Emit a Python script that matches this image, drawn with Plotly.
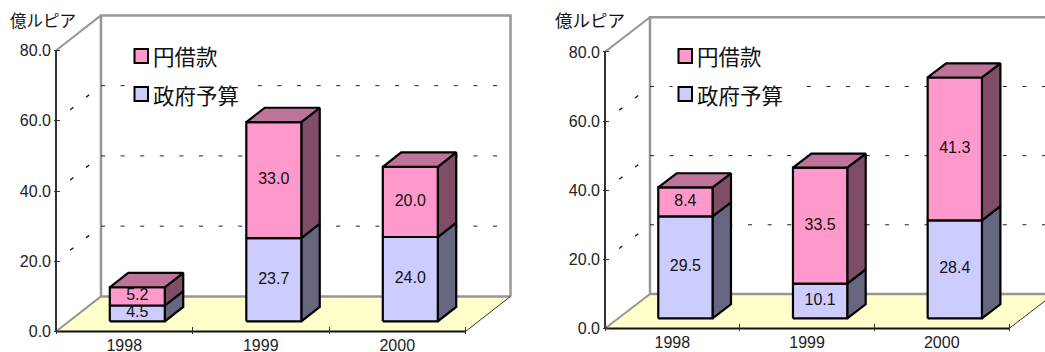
import plotly.graph_objects as go

# Stacked spending per year, in 100 million rupiah
years = ["1998", "1999", "2000"]
budget_a = [4.5, 23.7, 24.0]
loan_a = [5.2, 33.0, 20.0]
budget_b = [29.5, 10.1, 28.4]
loan_b = [8.4, 33.5, 41.3]
y_ticks = [0, 20, 40, 60, 80]
y_tick_text = ["0.0", "20.0", "40.0", "60.0", "80.0"]
loan_name = "円借款"
budget_name = "政府予算"
unit_name = "億ルピア"

W, H = 1045, 352
PINK = ("#FF99CC", "#BF7399", "#804D66")     # front, top, side
BLUE = ("#CCCCFF", "#9999BF", "#666680")
FLOOR = "#FFFFCC"
WALL = "#969696"
DARK = "#333333"

# Oblique projection: how far the back of the box shifts, in axis units
DEPTH_Y = 10.0
BAR_WIDTH = 0.403
BAR_D0, BAR_D1 = 0.29, 0.70
SIDE_GRID_START = 0.316  # the side-wall dashes begin a third of the way back
PAD = 2  # pixels kept around the axis so edge strokes are not cut


def px_x(p):
    return p / W


def px_y(p):
    return (H - p) / H


def add_poly(fig, xs, ys, fill, line, width, ax, dash=None):
    fig.add_trace(go.Scatter(
        x=xs, y=ys, mode="lines", fill="toself" if fill else "none",
        fillcolor=fill, line=dict(color=line, width=width, dash=dash),
        hoverinfo="skip", showlegend=False, xaxis=ax[0], yaxis=ax[1]))


def add_panel(fig, n, budget, loan, x0, cat_w, y0, unit, right_px, unit_x, unit_size, legend_x):
    xname, yname = ("x", "y") if n == 1 else (f"x{n}", f"y{n}")
    ax = (xname, yname)
    depth_x = 45.0 / cat_w
    x_max = (right_px - x0) / cat_w
    xr = [-PAD / cat_w, x_max]
    top_v = DEPTH_Y + 80 + PAD / unit
    yr = [-PAD / unit, top_v]
    n_cat = len(years)
    dom_x = [px_x(x0 - PAD), px_x(right_px)]
    dom_y = [px_y(y0 + PAD), px_y(y0 - top_v * unit)]

    # Floor, then the side and back walls
    add_poly(fig, [0, n_cat, n_cat + depth_x, depth_x, 0], [0, 0, DEPTH_Y, DEPTH_Y, 0], FLOOR, FLOOR, 0.5, ax)
    add_poly(fig, [depth_x, depth_x, n_cat + depth_x, n_cat + depth_x],
             [DEPTH_Y, DEPTH_Y + 80, DEPTH_Y + 80, DEPTH_Y], None, WALL, 2.5, ax)
    add_poly(fig, [depth_x, n_cat + depth_x], [DEPTH_Y, DEPTH_Y], None, WALL, 2.5, ax)
    add_poly(fig, [0, depth_x], [0, DEPTH_Y], None, WALL, 2, ax)
    add_poly(fig, [0, depth_x], [80, DEPTH_Y + 80], None, WALL, 2, ax)

    # Dashed grid on both walls
    for v in y_ticks[1:-1]:
        add_poly(fig, [depth_x, n_cat + depth_x], [v + DEPTH_Y, v + DEPTH_Y], None, "#222222", 1, ax,
                 dash="4px,15.6px")
        add_poly(fig, [SIDE_GRID_START * depth_x, depth_x], [v + SIDE_GRID_START * DEPTH_Y, v + DEPTH_Y],
                 None, "#111111", 1.3, ax, dash="4px,16px")

    # Front edges of the box
    add_poly(fig, [n_cat, n_cat + depth_x], [0, DEPTH_Y], None, DARK, 1, ax)
    add_poly(fig, [0, 0], [0, 80], None, DARK, 2, ax)
    add_poly(fig, [0, n_cat], [0, 0], None, "#111111", 2, ax)

    # Stacked boxes
    label_x, label_y, label_t = [], [], []
    for i in range(n_cat):
        xl = i + 0.5 - BAR_WIDTH / 2 + BAR_D0 * depth_x
        xr_ = xl + BAR_WIDTH
        dx = (BAR_D1 - BAR_D0) * depth_x
        dy = (BAR_D1 - BAR_D0) * DEPTH_Y
        base = BAR_D0 * DEPTH_Y
        for val, pal in ((budget[i], BLUE), (loan[i], PINK)):
            top = base + val
            add_poly(fig, [xr_, xr_ + dx, xr_ + dx, xr_, xr_], [base, base + dy, top + dy, top, base],
                     pal[2], "#000000", 2.2, ax)
            add_poly(fig, [xl, xr_, xr_, xl, xl], [base, base, top, top, base], pal[0], "#000000", 2.2, ax)
            label_x.append((xl + xr_) / 2)
            label_y.append((base + top) / 2)
            label_t.append(f"{val:.1f}")
            base = top
        add_poly(fig, [xl, xr_, xr_ + dx, xl + dx, xl], [base, base, base + dy, base + dy, base],
                 PINK[1], "#000000", 2.2, ax)

    fig.add_trace(go.Scatter(
        x=label_x, y=label_y, text=label_t, mode="text", textposition="middle center",
        textfont=dict(family="Liberation Sans", size=16, color="#111111"),
        hoverinfo="skip", showlegend=False, xaxis=xname, yaxis=yname))

    fig.update_layout({
        ("xaxis" if n == 1 else f"xaxis{n}"): dict(
            domain=dom_x, range=xr, anchor=yname, showgrid=False, zeroline=False, showline=False,
            automargin=False,
            tickmode="array", tickvals=[i + 0.5 for i in range(n_cat)], ticktext=years, ticks="",
            ticklabelstandoff=0,
            tickfont=dict(family="Liberation Sans", size=16, color="#222222"),
            minor=dict(tickmode="array", tickvals=list(range(n_cat + 1)), ticks="inside",
                       ticklen=7, tickwidth=1, tickcolor=DARK, showgrid=False)),
        ("yaxis" if n == 1 else f"yaxis{n}"): dict(
            domain=dom_y, range=yr, anchor=xname, showgrid=False, zeroline=False, showline=False,
            automargin=False,
            tickmode="array", tickvals=y_ticks, ticktext=y_tick_text, ticks="inside",
            ticklen=6, tickwidth=1, tickcolor=DARK, ticklabelstandoff=2,
            tickfont=dict(family="Liberation Sans", size=16, color="#222222")),
    })

    # Legend block with a white plate that interrupts the top grid line
    shapes = [dict(type="rect", xref="paper", yref="paper", x0=px_x(legend_x - 6), x1=px_x(legend_x + 118),
                   y0=px_y(106), y1=px_y(42), fillcolor="white", line=dict(width=0), layer="above")]
    for row_y, colour in ((56, PINK[0]), (94, BLUE[0])):
        shapes.append(dict(type="rect", xref="paper", yref="paper", x0=px_x(legend_x), x1=px_x(legend_x + 13.5),
                           y0=px_y(row_y + 7), y1=px_y(row_y - 7), fillcolor=colour,
                           line=dict(color="#000000", width=2), layer="above"))
    notes = []
    for row_y, name in ((56, loan_name), (94, budget_name)):
        notes.append(dict(x=px_x(legend_x + 16), y=px_y(row_y), xref="paper", yref="paper", text=name,
                          xanchor="left", yanchor="middle", showarrow=False,
                          font=dict(family="Noto Sans CJK JP", size=21.5, color="#111111")))
    notes.append(dict(x=px_x(unit_x), y=px_y(20), xref="paper", yref="paper", text=unit_name,
                      xanchor="left", yanchor="middle", showarrow=False,
                      font=dict(family="Noto Sans CJK JP", size=unit_size, color="#111111")))
    return shapes, notes


fig = go.Figure()
s1, a1 = add_panel(fig, 1, budget_a, loan_a, 56, 136.5, 331.5, 3.5125, 513, 8, 16.5, 134.5)
s2, a2 = add_panel(fig, 2, budget_b, loan_b, 605, 134.7, 328.5, 3.4575, 1045, 553, 17.5, 678.5)

fig.update_layout(
    width=W, height=H, margin=dict(l=0, r=0, t=0, b=0), autosize=False,
    paper_bgcolor="white", plot_bgcolor="white", hovermode=False, showlegend=False,
    shapes=s1 + s2, annotations=a1 + a2,
    font=dict(family="Liberation Sans"),
)
fig.write_html("out.html", config=dict(displayModeBar=False, responsive=False))
